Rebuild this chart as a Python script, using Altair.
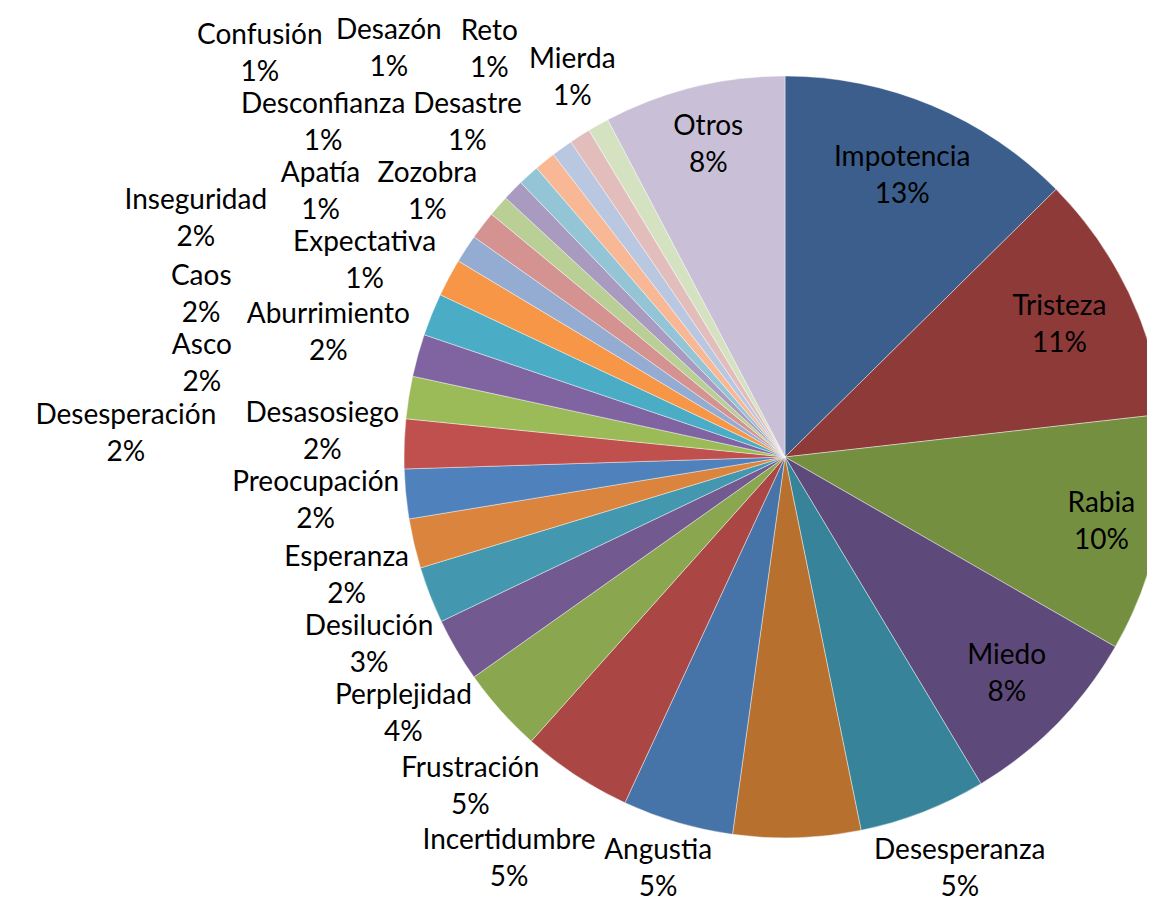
import math
import altair as alt
import pandas as pd

# ---------------- data ----------------
names = ["Impotencia", "Tristeza", "Rabia", "Miedo", "Desesperanza", "Angustia",
         "Incertidumbre", "Frustración", "Perplejidad", "Desilución", "Esperanza",
         "Preocupación", "Desasosiego", "Desesperación", "Asco", "Caos",
         "Inseguridad", "Aburrimiento", "Apatía", "Confusión", "Expectativa",
         "Desconfianza", "Zozobra", "Desazón", "Desastre", "Reto", "Mierda", "Otros"]
values = [12.6, 10.6, 10.1, 8.1, 5.4, 5.4,
          4.7, 4.7, 3.6, 2.7, 2.4,
          2.1, 2.1, 2.1, 1.8, 1.8,
          1.8, 1.6, 1.2, 1.2, 0.9,
          0.9, 0.9, 0.9, 0.9, 0.9, 0.9, 7.7]
colors = ["#3B5E8C", "#8D3A38", "#758F41", "#5E4A7A", "#36839A", "#B8702F",
          "#4673A8", "#AA4744", "#8AA64F", "#72598F", "#4398AF",
          "#DB843D", "#4F81BD", "#C0504D", "#9BBB59", "#8064A2",
          "#4BACC6", "#F79646", "#95ACD2", "#D49391", "#BACF96",
          "#A99BBF", "#93C5D6", "#F8B896", "#BAC7E0", "#E3BCBC", "#D4E2C2", "#C9C0D7"]

# ---------------- layout parameters ----------------
FONT = "Lato"
FS = 28
LH = 37
R = 381
W, H = 724, 898
PAD_L = 415
XMIN, XMAX = -(PAD_L + W / 2) + 2, W / 2 - 2
YMIN, YMAX = -H / 2, H / 2

total = sum(values)
mids = []
cum = 0.0
for v in values:
    mids.append(2 * math.pi * (cum + v / 2) / total)
    cum += v
pcts = [f"{round(v / total * 100)}%" for v in values]
labels = [f"{n}\n{p}" for n, p in zip(names, pcts)]

CW = {'a': .51, 'b': .57, 'c': .46, 'd': .57, 'e': .53, 'f': .33, 'g': .52, 'h': .57,
      'i': .24, 'í': .24, 'j': .24, 'l': .24, 'm': .85, 'n': .57, 'o': .56, 'ó': .56,
      'p': .56, 'q': .57, 'r': .37, 's': .43, 't': .36, 'u': .57, 'v': .52, 'x': .5,
      'y': .52, 'z': .46, 'A': .67, 'C': .66, 'D': .74, 'E': .56, 'F': .54, 'I': .29,
      'M': .87, 'O': .78, 'P': .59, 'R': .61, 'T': .57, 'Z': .6, '%': .77}


def text_w(s):
    return sum(CW.get(ch, .58 if ch.isdigit() else .52) for ch in s) * FS


def overlaps(a, b, m=3):
    return not (a[2] + m <= b[0] or b[2] + m <= a[0] or a[3] + m <= b[1] or b[3] + m <= a[1])


n = len(values)
lab_theta = [0.0] * n
lab_r = [0.0] * n
placed = []
gaps = [3, 10] + list(range(18, 560, 12))
inside = [v >= 7 for v in values]

# inside labels for the big slices
for i in range(n):
    if inside[i]:
        w = max(text_w(names[i]), text_w(pcts[i])) + 2
        th = mids[i]
        ux, uy = math.sin(th), -math.cos(th)
        ext = abs(ux) * w / 2 + abs(uy) * LH
        lab_theta[i] = th
        lab_r[i] = R - 16 - ext

# outside labels: lower half clockwise, upper-left part counter-clockwise
outs = [i for i in range(n) if not inside[i]]
lower = [i for i in outs if mids[i] < 1.5 * math.pi]
upper = [i for i in outs if mids[i] >= 1.5 * math.pi]
order = lower + list(reversed(upper))

for i in order:
    w = max(text_w(names[i]), text_w(pcts[i])) + 2
    h = LH + FS
    cands = []
    for g in gaps:
        for k in range(0, 90):
            for s in ([0] if k == 0 else [1, -1]):
                da = s * k * 0.015
                cands.append((g + 1000 * abs(da), g, da))
    cands.sort()
    chosen = None
    for _, g, da in cands:
        th = mids[i] + da
        ux, uy = math.sin(th), -math.cos(th)
        ext = abs(ux) * w / 2 + abs(uy) * h / 2
        d = R + g + ext
        x, y = d * ux, d * uy
        box = (x - w / 2, y - h / 2, x + w / 2, y + h / 2)
        if box[0] < XMIN or box[2] > XMAX:
            continue
        if y - LH / 2 - 0.78 * FS < YMIN or y + LH / 2 + 0.62 * FS > YMAX:
            continue
        nx = min(max(0, box[0]), box[2])
        ny = min(max(0, box[1]), box[3])
        if math.hypot(nx, ny) < R + 3:
            continue
        if any(overlaps(box, p) for p in placed):
            continue
        chosen = (x, y, box)
        break
    if chosen is None:
        th = mids[i]
        x, y = (R + 60) * math.sin(th), -(R + 60) * math.cos(th)
        chosen = (x, y, (x - w / 2, y - h / 2, x + w / 2, y + h / 2))
    x, y, box = chosen
    placed.append(box)
    lab_theta[i] = math.atan2(x, -y) % (2 * math.pi)
    lab_r[i] = math.hypot(x, y)

df = pd.DataFrame({
    "name": names,
    "value": values,
    "idx": list(range(n)),
    "label": labels,
    "lab_theta": lab_theta,
    "lab_r": lab_r,
})

pie = alt.Chart(df).mark_arc(radius=R, stroke="#ffffff", strokeWidth=0.6, strokeOpacity=0.7).encode(
    theta=alt.Theta("value:Q", stack=True),
    color=alt.Color("name:N", scale=alt.Scale(domain=names, range=colors), legend=None),
    order=alt.Order("idx:Q"),
)

text = alt.Chart(df).mark_text(
    font=FONT, fontSize=FS, lineHeight=LH, lineBreak="\n",
    align="center", baseline="middle", color="#000000", dy=-LH / 2,
).encode(
    theta=alt.Theta("lab_theta:Q", scale=None),
    radius=alt.Radius("lab_r:Q", scale=None),
    text="label:N",
)

chart = alt.layer(pie, text).properties(
    width=W, height=H,
    padding={"left": PAD_L, "top": 0, "right": 0, "bottom": 0},
    autosize=alt.AutoSizeParams(type="none"),
).configure_view(stroke=None).configure(background="#ffffff")

chart.save("out.html", embed_options={"renderer": "svg", "actions": False})
